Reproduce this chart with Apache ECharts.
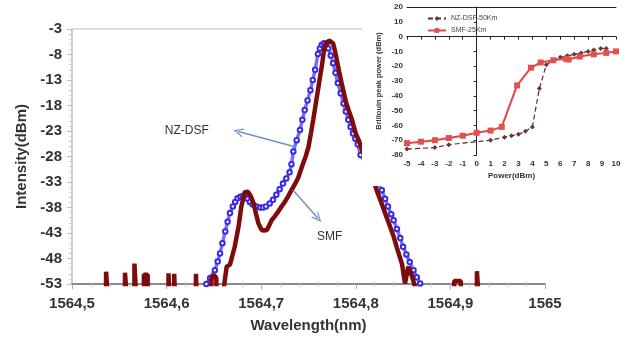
<!DOCTYPE html>
<html>
<head>
<meta charset="utf-8">
<script src="https://cdn.jsdelivr.net/npm/echarts@6/dist/echarts.min.js"></script>
<style>html,body{margin:0;padding:0;background:#fff}#c{width:637px;height:342px}</style>
</head>
<body>
<div id="c"></div>
<script>
// ---- Main spectrum data (wavelength nm, intensity dBm) ----
const nzdsfSpectrum = [
 [1564.642,-53.0],[1564.646,-51.8],[1564.651,-50.3],[1564.654,-48.6],[1564.6565,-47.0],[1564.659,-45.0],
 [1564.662,-42.7],[1564.6645,-40.8],[1564.667,-39.1],[1564.670,-37.8],[1564.6725,-36.9],[1564.675,-36.2],
 [1564.678,-35.9],[1564.6805,-35.8],[1564.683,-35.9],[1564.6855,-36.3],[1564.688,-36.9],[1564.691,-37.4],
 [1564.695,-37.8],[1564.699,-38.0],[1564.702,-38.0],[1564.705,-37.8],[1564.709,-37.2],[1564.7125,-36.5],
 [1564.716,-35.5],[1564.7195,-34.4],[1564.723,-33.3],[1564.7265,-32.3],[1564.730,-31.1],[1564.732,-29.5],
 [1564.734,-27.0],[1564.7375,-24.8],[1564.741,-22.8],[1564.7435,-20.8],[1564.746,-18.9],[1564.749,-17.0],
 [1564.752,-15.0],[1564.7545,-13.0],[1564.757,-11.0],[1564.760,-7.9],[1564.762,-6.8],[1564.764,-6.1],
 [1564.7665,-5.8],[1564.769,-6.0],[1564.771,-6.8],[1564.7735,-8.2],[1564.776,-9.7],[1564.7785,-11.6],
 [1564.781,-13.6],[1564.784,-15.6],[1564.787,-17.6],[1564.7895,-19.2],[1564.792,-20.8],[1564.7945,-22.2],
 [1564.797,-23.5],[1564.7995,-24.5],[1564.802,-25.6],[1564.805,-27.7],[1564.816,-31.0],[1564.8275,-34.6],
 [1564.831,-36.3],[1564.834,-37.8],[1564.8375,-39.3],[1564.840,-40.5],[1564.8435,-42.2],[1564.847,-44.0],
 [1564.850,-45.7],[1564.8535,-47.2],[1564.857,-48.7],[1564.861,-50.3],[1564.8645,-51.7],[1564.868,-52.9]
];
const smfSpectrum = [
 [1564.500,-56],
 [1564.536,-56],[1564.536,-50.6],[1564.538,-50.6],[1564.538,-56],
 [1564.556,-56],[1564.556,-50.8],[1564.558,-50.8],[1564.558,-56],
 [1564.566,-56],[1564.566,-49.0],[1564.568,-49.0],[1564.568,-56],
 [1564.576,-56],[1564.576,-51.2],[1564.580,-51.2],[1564.580,-56],
 [1564.602,-56],[1564.602,-50.9],[1564.603,-50.9],[1564.603,-56],
 [1564.608,-56],[1564.608,-51.0],[1564.609,-51.0],[1564.609,-56],
 [1564.631,-56],[1564.631,-51.0],[1564.632,-51.0],[1564.632,-56],
 [1564.647,-56],[1564.6475,-51.8],[1564.650,-51.2],[1564.6525,-51.8],[1564.653,-56],
 [1564.660,-56],[1564.661,-53],[1564.6635,-49.6],[1564.667,-49.2],[1564.669,-49.0],[1564.672,-45.7],
 [1564.676,-41.8],[1564.679,-37.8],[1564.6825,-35.0],[1564.686,-34.9],[1564.689,-35.8],[1564.692,-37.2],
 [1564.6945,-39.2],[1564.697,-41.1],[1564.7005,-42.4],[1564.703,-42.5],[1564.706,-42.4],[1564.7085,-41.5],
 [1564.711,-40.5],[1564.7145,-39.7],[1564.718,-38.8],[1564.7215,-37.8],[1564.725,-36.9],[1564.7285,-35.8],
 [1564.732,-34.6],[1564.736,-33.3],[1564.739,-32.2],[1564.742,-30.6],[1564.744,-29.5],[1564.747,-28.0],
 [1564.750,-26.1],[1564.7525,-23.5],[1564.755,-20.8],[1564.7575,-17.9],[1564.760,-15.0],[1564.762,-12.6],
 [1564.764,-10.4],[1564.7655,-8.4],[1564.767,-6.5],[1564.7695,-5.6],[1564.772,-5.3],[1564.774,-5.4],
 [1564.776,-5.8],[1564.778,-7.3],[1564.780,-9.1],[1564.7825,-11.4],[1564.785,-13.6],[1564.7875,-15.6],
 [1564.790,-17.6],[1564.793,-19.2],[1564.796,-20.8],[1564.798,-22.2],[1564.800,-23.5],[1564.8037,-25.1],
 [1564.806,-26.4],[1564.814,-30.0],[1564.822,-34.6],[1564.8265,-36.8],[1564.831,-39.1],[1564.8355,-41.4],
 [1564.840,-43.7],[1564.8435,-45.9],[1564.847,-48.0],[1564.849,-49.2],[1564.850,-50.5],[1564.852,-52.9],
 [1564.8555,-49.6],[1564.858,-50.8],[1564.8595,-51.6],[1564.861,-52.5],[1564.8626,-53.5],[1564.864,-56],
 [1564.904,-56],[1564.904,-52.4],[1564.911,-52.4],[1564.911,-56],
 [1564.928,-56],[1564.928,-50.5],[1564.930,-50.5],[1564.930,-56],
 [1565.000,-56]
];
// main axis ranges / ticks
const wlRange = [1564.5, 1565], wlStep = 0.1;
const dbRange = [-53, -3], dbStep = 5;
// annotations (data coordinates)
const labelsText = [
 {text:'NZ-DSF', at:[1564.6214,-23.0]},
 {text:'SMF', at:[1564.7724,-43.8]}
];
const arrows = [
 [[1564.7357,-26.1],[1564.6757,-23.1]],
 [[1564.7337,-34.6],[1564.7600,-40.1]]
];

// ---- Inset data (Power dBm, Brillouin peak power dBm) ----
const nzPower = [-5,-3,-2,1,2,2.5,3,3.5,4,4.5,5,5.5,6,6.5,7,7.5,8,8.4,8.9,9.3];
const nzBrill = [-76,-75,-73,-70,-68,-67,-66,-64,-61,-35,-19,-16,-14,-13,-12,-11,-10,-9,-8,-8];
const smfPower = [-5,-4,-3,-2,-1,0,1,1.8,2.9,3.9,4.6,5.5,6.4,6.6,7.4,8.4,9.3,10];
const smfBrill = [-72,-71,-70,-68.5,-67,-65,-63.5,-61,-33,-21,-17.5,-16,-15,-15.5,-13.5,-12,-11,-10];
const insetX = [-5, 10, 1];
const insetY = [-80, 20, 10];

const FONT = 'Liberation Sans';
const chart = echarts.init(document.getElementById('c'), null, {renderer:'canvas'});
const vArrow = 'path://M0,10 L5,0 L10,10 L8.6,10 L5,2.8 L1.4,10 Z';

const option = {
 backgroundColor:'#fff',
 animation:false,
 textStyle:{fontFamily:FONT},
 grid:[
  {left:72, right:92, top:29, bottom:58},
  {left:407, top:7, width:209, height:148}
 ],
 legend:{
  data:['NZ-DSF-50Km','SMF-25Km'], orient:'vertical', left:422, top:10, z:20,
  itemWidth:18, itemHeight:6, itemGap:5, selectedMode:false,
  textStyle:{fontSize:7, color:'#444', fontFamily:FONT}
 },
 graphic:[
  {type:'rect', z:5, silent:true, shape:{x:362,y:0,width:275,height:186}, style:{fill:'#fff'}}
 ],
 xAxis:[
  {gridIndex:0, type:'value', min:wlRange[0], max:wlRange[1], interval:wlStep,
   name:'Wavelength(nm)', nameLocation:'middle', nameGap:34,
   nameTextStyle:{fontSize:15, fontWeight:'bold', color:'#333', fontFamily:FONT},
   axisLine:{lineStyle:{color:'#666', width:1.5}},
   axisTick:{show:true, length:5, lineStyle:{color:'#aaa'}},
   minorTick:{show:true, splitNumber:5, length:3, lineStyle:{color:'#ccc'}},
   splitLine:{show:false},
   axisLabel:{fontSize:15, fontWeight:'bold', color:'#333', margin:12, fontFamily:FONT,
     formatter:v=>String(Math.round(v*10)/10).replace('.',',')}},
  {gridIndex:0, type:'value', position:'top', min:wlRange[0], max:wlRange[1],
   axisLine:{lineStyle:{color:'#d4d4d4', width:1.5}}, axisTick:{show:false}, axisLabel:{show:false}, splitLine:{show:false}},
  {gridIndex:1, type:'value', min:insetX[0], max:insetX[1], interval:insetX[2], z:10,
   name:'Power(dBm)', nameLocation:'middle', nameGap:17,
   nameTextStyle:{fontSize:8, fontWeight:'bold', color:'#333', fontFamily:FONT},
   axisLine:{lineStyle:{color:'#222', width:1}},
   axisTick:{show:true, length:3, lineStyle:{color:'#222'}},
   splitLine:{show:false},
   axisLabel:{fontSize:8, fontWeight:'bold', color:'#333', margin:5, fontFamily:FONT}},
  {gridIndex:1, type:'value', position:'top', min:insetX[0], max:insetX[1], z:10,
   axisLine:{lineStyle:{color:'#222', width:1}}, axisTick:{show:false}, axisLabel:{show:false}, splitLine:{show:false}}
 ],
 yAxis:[
  {gridIndex:0, type:'value', min:dbRange[0], max:dbRange[1], interval:dbStep,
   name:'Intensity(dBm)', nameLocation:'middle', nameGap:40,
   nameTextStyle:{fontSize:15, fontWeight:'bold', color:'#333', fontFamily:FONT},
   axisLine:{show:true, lineStyle:{color:'#bbb', width:1.5}},
   axisTick:{show:true, length:5, lineStyle:{color:'#bbb'}},
   minorTick:{show:true, splitNumber:5, length:3, lineStyle:{color:'#ccc'}},
   splitLine:{show:false},
   axisLabel:{fontSize:15, fontWeight:'bold', color:'#333', margin:10, fontFamily:FONT}},
  {gridIndex:1, type:'value', min:insetY[0], max:insetY[1], interval:insetY[2], z:10,
   name:'Brillouin peak power (dBm)', nameLocation:'middle', nameGap:24,
   nameTextStyle:{fontSize:7.5, fontWeight:'bold', color:'#333', fontFamily:FONT},
   axisLine:{show:true, lineStyle:{color:'#222', width:1}},
   axisTick:{show:true, length:3, lineStyle:{color:'#222'}},
   splitLine:{show:false},
   axisLabel:{fontSize:8, fontWeight:'bold', color:'#333', margin:4, fontFamily:FONT}}
 ],
 series:[
  {name:'NZ-DSF', type:'line', xAxisIndex:0, yAxisIndex:0, data:nzdsfSpectrum, z:2,
   symbol:'emptyCircle', symbolSize:4.5, showSymbol:true,
   itemStyle:{color:'#3a2ae6', borderWidth:1, borderColor:'#3a2ae6'},
   lineStyle:{color:'#7a6ef7', width:3.5},
   markLine:{silent:true, symbol:['none', vArrow], symbolSize:[9,10], precision:6,
     lineStyle:{color:'#6f93c4', width:1.5, type:'solid'}, label:{show:false},
     data:arrows.map(a=>[{coord:a[0]},{coord:a[1]}])},
   markPoint:{silent:true, symbol:'circle', symbolSize:0,
     label:{show:true, color:'#333', fontSize:12, fontFamily:FONT, formatter:p=>p.name},
     data:labelsText.map(l=>({name:l.text, coord:l.at}))}
  },
  {name:'SMF', type:'line', xAxisIndex:0, yAxisIndex:0, data:smfSpectrum, z:3, clip:true,
   showSymbol:false, lineStyle:{color:'#7d0c0c', width:4.5}, itemStyle:{color:'#7d0c0c'}},
  {name:'NZ-DSF-50Km', type:'line', xAxisIndex:2, yAxisIndex:1, z:10,
   data:nzPower.map((p,i)=>[p,nzBrill[i]]),
   symbol:'diamond', symbolSize:5,
   lineStyle:{color:'#4a3030', width:1.2, type:[5,3]}, itemStyle:{color:'#6b3535'}},
  {name:'SMF-25Km', type:'line', xAxisIndex:2, yAxisIndex:1, z:11,
   data:smfPower.map((p,i)=>[p,smfBrill[i]]),
   symbol:'rect', symbolSize:6,
   lineStyle:{color:'#e04848', width:2}, itemStyle:{color:'#e05050'}}
 ]
};
chart.setOption(option);
</script>
</body>
</html>
